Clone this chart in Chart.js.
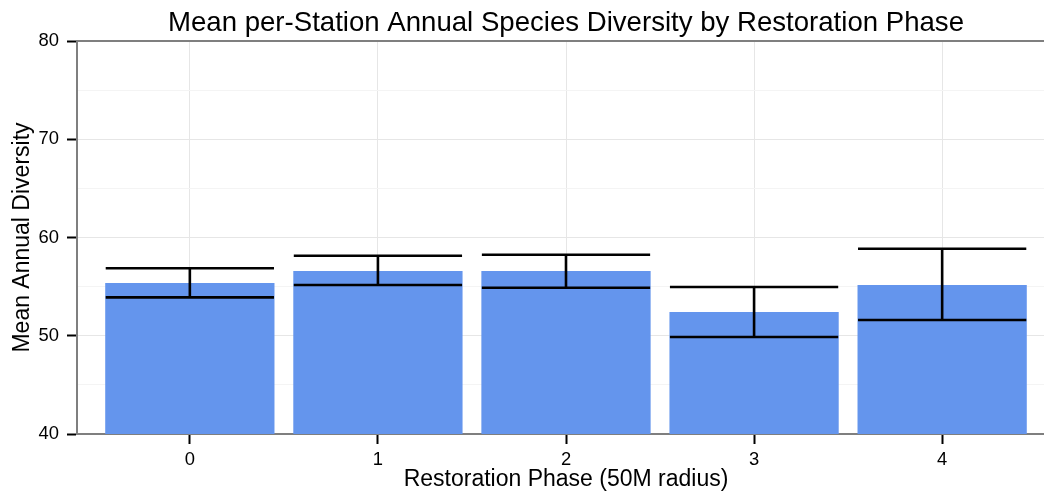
<!DOCTYPE html>
<html>
<head>
<meta charset="utf-8">
<script src="https://cdn.jsdelivr.net/npm/chart.js@4/dist/chart.umd.min.js"></script>
<style>
  html, body { margin: 0; padding: 0; background: #fff; overflow: hidden; }
  #wrap { width: 1044px; height: 495px; overflow: hidden; }
  canvas { display: block; }
</style>
</head>
<body>
<div id="wrap"><canvas id="c" width="1132" height="495"></canvas></div>
<script>
const categories = ['0', '1', '2', '3', '4'];
const meanDiversity = [55.37, 56.59, 56.59, 52.42, 55.17];
const errorLow = [53.91, 55.17, 54.89, 49.87, 51.60];
const errorHigh = [56.87, 58.15, 58.25, 54.96, 58.86];
const yTickValues = [40, 50, 60, 70, 80];

const FONT = "'Liberation Sans', Arial, Helvetica, sans-serif";

const errorBarPlugin = {
  id: 'errorBars',
  beforeDatasetsDraw(chart) {
    const { ctx, chartArea } = chart;
    ctx.save();
    ctx.strokeStyle = '#7f7f7f';
    ctx.lineWidth = 2;
    ctx.beginPath();
    ctx.moveTo(chartArea.left, chartArea.top);
    ctx.lineTo(chartArea.right, chartArea.top);
    ctx.stroke();
    ctx.restore();
  },
  afterDatasetsDraw(chart) {
    const { ctx } = chart;
    const xs = chart.scales.x, ys = chart.scales.y;
    const meta = chart.getDatasetMeta(0);
    ctx.save();
    ctx.strokeStyle = '#000';
    ctx.lineWidth = 2.6;
    meta.data.forEach((bar, i) => {
      const cx = xs.getPixelForValue(i);
      const hw = bar.width / 2 - 0.5;
      const yl = ys.getPixelForValue(errorLow[i]);
      const yh = ys.getPixelForValue(errorHigh[i]);
      ctx.beginPath();
      ctx.moveTo(cx - hw, yh); ctx.lineTo(cx + hw, yh);
      ctx.moveTo(cx, yh); ctx.lineTo(cx, yl);
      ctx.moveTo(cx - hw, yl); ctx.lineTo(cx + hw, yl);
      ctx.stroke();
    });
    ctx.restore();
  }
};

new Chart(document.getElementById('c'), {
  type: 'bar',
  data: {
    datasets: [{
      data: meanDiversity.map((m, i) => ({ x: i, y: m })),
      backgroundColor: '#6495ED',
      borderWidth: 0,
      barPercentage: 0.9,
      categoryPercentage: 1.0
    }]
  },
  plugins: [errorBarPlugin],
  options: {
    responsive: false,
    animation: false,
    devicePixelRatio: 1,
    layout: { padding: 0 },
    plugins: {
      legend: { display: false },
      tooltip: { enabled: false },
      title: {
        display: true,
        text: 'Mean per-Station Annual Species Diversity by Restoration Phase',
        color: '#000',
        font: { family: FONT, size: 27.6, weight: 'normal' },
        padding: { top: 6.5, bottom: 1.4 }
      }
    },
    scales: {
      x: {
        type: 'linear',
        min: -0.6,
        max: 4.6,
        offset: false,
        afterFit(s) { s.height = 61; },
        afterBuildTicks(s) { s.ticks = categories.map((c, i) => ({ value: i })); },
        ticks: {
          callback: v => categories[v],
          color: '#000',
          font: { family: FONT, size: 18.4 },
          padding: 5,
          autoSkip: false,
          maxRotation: 0
        },
        grid: {
          offset: false,
          color: '#e6e6e6',
          lineWidth: 1,
          drawTicks: true,
          tickLength: 10,
          tickColor: '#000',
          tickWidth: 2
        },
        border: { color: '#7f7f7f', width: 2 },
        title: {
          display: true,
          text: 'Restoration Phase (50M radius)',
          color: '#000',
          font: { family: FONT, size: 23 },
          padding: { top: 2, bottom: 2 }
        }
      },
      y: {
        min: 40,
        max: 80,
        beginAtZero: false,
        afterFit(s) { s.width = 77; },
        ticks: {
          stepSize: 5,
          callback: v => (yTickValues.includes(v) ? String(v) : ''),
          color: '#000',
          font: { family: FONT, size: 18.4 },
          padding: 8
        },
        grid: {
          color: c => (c.tick && yTickValues.includes(c.tick.value) ? '#e6e6e6' : '#f4f4f4'),
          lineWidth: 1,
          drawTicks: true,
          tickLength: 10,
          tickColor: c => (c.tick && yTickValues.includes(c.tick.value) ? '#000' : 'rgba(0,0,0,0)'),
          tickWidth: 2
        },
        border: { color: '#7f7f7f', width: 2 },
        title: {
          display: true,
          text: 'Mean Annual Diversity',
          color: '#000',
          font: { family: FONT, size: 23 },
          padding: { top: 9, bottom: 9 }
        }
      },
      yRight: {
        type: 'linear',
        position: 'right',
        display: true,
        min: 40,
        max: 80,
        afterFit(s) { s.width = 77; },
        ticks: { display: false },
        grid: { display: false, drawOnChartArea: false, drawTicks: false },
        border: { display: false }
      }
    }
  }
});
</script>
</body>
</html>
